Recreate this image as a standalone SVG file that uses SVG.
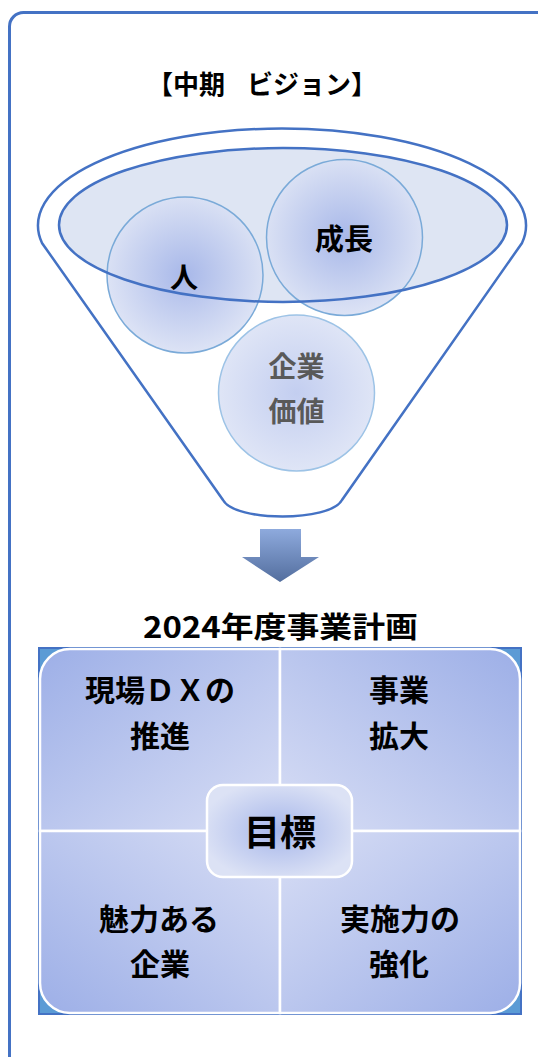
<svg xmlns="http://www.w3.org/2000/svg" width="538" height="1057" viewBox="0 0 538 1057">
<defs>
<style>
.t{font-family:"Noto Sans CJK JP","Noto Sans",sans-serif;font-weight:700;fill:#000;text-anchor:middle}
.g{fill:#595959}
.circ{stroke:#7AAAD8;stroke-width:1.5}
.quad{stroke:#fff;stroke-width:2.5}
</style>
<radialGradient id="gc" cx="0.5" cy="0.5" r="0.5">
<stop offset="0" stop-color="#A2B3E8"/>
<stop offset="1" stop-color="#D9E0F4"/>
</radialGradient>
<radialGradient id="gc2" cx="0.5" cy="0.5" r="0.5">
<stop offset="0" stop-color="#C3CEF0"/>
<stop offset="1" stop-color="#DFE5F6"/>
</radialGradient>
<radialGradient id="gm" cx="0.5" cy="0.5" r="0.55">
<stop offset="0" stop-color="#A6B6EA"/>
<stop offset="1" stop-color="#DCE2F5"/>
</radialGradient>
<linearGradient id="garrow" x1="0" y1="0" x2="0" y2="1">
<stop offset="0" stop-color="#8EAADD"/>
<stop offset="1" stop-color="#536E9E"/>
</linearGradient>
<linearGradient id="gq1" x1="0" y1="0" x2="1" y2="1">
<stop offset="0" stop-color="#9DAFE7"/>
<stop offset="1" stop-color="#D8DEF5"/>
</linearGradient>
<linearGradient id="gq2" x1="1" y1="0" x2="0" y2="1">
<stop offset="0" stop-color="#9DAFE7"/>
<stop offset="1" stop-color="#D8DEF5"/>
</linearGradient>
<linearGradient id="gq3" x1="0" y1="1" x2="1" y2="0">
<stop offset="0" stop-color="#9DAFE7"/>
<stop offset="1" stop-color="#D8DEF5"/>
</linearGradient>
<linearGradient id="gq4" x1="1" y1="1" x2="0" y2="0">
<stop offset="0" stop-color="#9DAFE7"/>
<stop offset="1" stop-color="#D8DEF5"/>
</linearGradient>
</defs>

<g id="frame">
<rect x="9.5" y="12.5" width="560" height="1060" rx="14" fill="#fff" stroke="#4472C4" stroke-width="3"/>
</g>

<g id="title-vision">
<text class="t" x="262" y="94" font-size="26">【中期<tspan dx="22">ビジョン】</tspan></text>
</g>

<g id="funnel">
<path d="M42,243 A244,97 0 1 1 522,243 L342,500 C330,522 235,522 223,500 Z" fill="#fff" stroke="#4472C4" stroke-width="2.5"/>
<ellipse cx="283" cy="225" rx="224" ry="77" fill="#DEE5F3"/>
</g>

<g id="node-hito">
<circle class="circ" cx="185" cy="275" r="78" fill="url(#gc)" fill-opacity="0.9"/>
</g>
<g id="node-seicho">
<circle class="circ" cx="344.5" cy="237.5" r="78" fill="url(#gc)" fill-opacity="0.9"/>
</g>
<g id="funnel-rim">
<ellipse cx="283" cy="225" rx="224" ry="77" fill="none" stroke="#4472C4" stroke-width="2.5"/>
</g>
<g id="node-kigyokachi">
<circle cx="296.5" cy="393" r="78" fill="url(#gc2)" stroke="#9DC3E6" stroke-width="1.5"/>
<text class="t g" x="296.5" y="377" font-size="28">企業</text>
<text class="t g" x="296.5" y="422" font-size="28">価値</text>
</g>
<g id="labels-top">
<text class="t" x="184" y="288" font-size="28">人</text>
<text class="t" x="344" y="250" font-size="29">成長</text>
</g>

<g id="connectors">
<path d="M260,529 H301 V557 H319 L280,582 L242,557 H260 Z" fill="url(#garrow)"/>
</g>

<g id="title-plan">
<text class="t" x="280.5" y="638" font-size="29" textLength="275" lengthAdjust="spacingAndGlyphs">2024年度事業計画</text>
</g>

<g id="matrix">
<rect x="39" y="648" width="482" height="366" fill="#5B9BD5" stroke="#4472C4" stroke-width="2"/>
<path class="quad" d="M40,831 V679 A30,30 0 0 1 70,649 H280 V831 Z" fill="url(#gq1)"/>
<path class="quad" d="M280,649 H490 A30,30 0 0 1 520,679 V831 H280 Z" fill="url(#gq2)"/>
<path class="quad" d="M40,831 H280 V1013 H70 A30,30 0 0 1 40,983 Z" fill="url(#gq3)"/>
<path class="quad" d="M280,831 H520 V983 A30,30 0 0 1 490,1013 H280 Z" fill="url(#gq4)"/>
</g>

<g id="node-genba">
<text class="t" x="160" y="701" font-size="30">現場ＤＸの</text>
<text class="t" x="160" y="747" font-size="30">推進</text>
</g>
<g id="node-jigyo">
<text class="t" x="399" y="701" font-size="30">事業</text>
<text class="t" x="399" y="747" font-size="30">拡大</text>
</g>
<g id="node-miryoku">
<text class="t" x="159" y="930" font-size="30">魅力ある</text>
<text class="t" x="160" y="975" font-size="30">企業</text>
</g>
<g id="node-jisshi">
<text class="t" x="400" y="930" font-size="30">実施力の</text>
<text class="t" x="399" y="975" font-size="30">強化</text>
</g>
<g id="node-mokuhyo">
<rect x="207" y="785" width="145" height="92" rx="16" fill="url(#gm)" stroke="#fff" stroke-width="2.5"/>
<text class="t" x="280" y="846" font-size="36">目標</text>
</g>
</svg>
